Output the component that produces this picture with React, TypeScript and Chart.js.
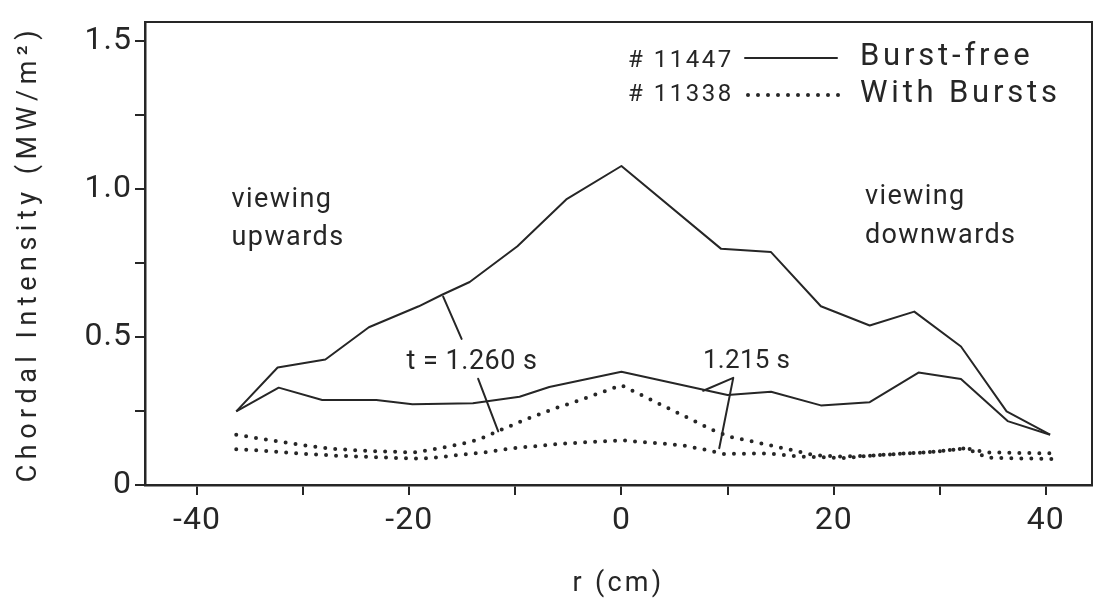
import React, { useEffect, useRef } from 'react';
import { Chart, registerables } from 'chart.js';

Chart.register(...registerables);

// ---- axis ticks ----
const xTickValues = [-40, -30, -20, -10, 0, 10, 20, 30, 40];
const xTickLabels = ['-40', '', '-20', '', '0', '', '20', '', '40'];
const yTickValues = [0, 0.25, 0.5, 0.75, 1.0, 1.25, 1.5];
const yTickLabels = ['0', '', '0.5', '', '1.0', '', '1.5'];

// ---- shot #11447, burst-free (solid) ----
const rFree1260 = [-36.3, -32.4, -27.9, -23.8, -19.1, -16.9, -14.3, -9.8, -5.2, 0, 9.4, 14.1, 18.8, 23.4, 27.6, 32.0, 36.3, 40.4];
const vFree1260 = [0.249, 0.397, 0.424, 0.533, 0.604, 0.643, 0.686, 0.807, 0.965, 1.078, 0.798, 0.787, 0.604, 0.539, 0.586, 0.468, 0.249, 0.170];

const rFree1215 = [-36.3, -32.3, -28.2, -23.1, -19.7, -14.0, -9.6, -6.8, 0, 10.0, 14.1, 18.8, 23.4, 28.0, 32.0, 36.4, 40.4];
const vFree1215 = [0.249, 0.329, 0.287, 0.287, 0.273, 0.276, 0.298, 0.331, 0.383, 0.304, 0.315, 0.269, 0.280, 0.380, 0.358, 0.216, 0.170];

// ---- shot #11338, with bursts (dotted) ----
const rBurst1260 = [-36.3, -33.4, -29.4, -26.8, -23.0, -19.5, -17.2, -15.3, -13.4, -11.7, -9.0, -6.2, -4.3, 0, 8.6, 10.3, 12.1, 14.0, 15.8, 18.0, 20.3, 23.0, 26.0, 29.4, 32.5, 34.5, 40.6];
const vBurst1260 = [0.170, 0.153, 0.131, 0.121, 0.114, 0.110, 0.124, 0.137, 0.154, 0.181, 0.222, 0.260, 0.282, 0.337, 0.186, 0.162, 0.149, 0.134, 0.120, 0.102, 0.096, 0.098, 0.105, 0.112, 0.124, 0.110, 0.107];

const rBurst1215 = [-36.3, -33.4, -29.4, -26.8, -23.0, -19.5, -18.1, -14.3, -12.5, -10.3, -5.5, 0, 5.8, 7.8, 9.6, 13.7, 16.8, 21.2, 23.0, 26.0, 29.4, 32.5, 34.5, 40.6];
const vBurst1215 = [0.121, 0.115, 0.104, 0.099, 0.094, 0.089, 0.091, 0.105, 0.112, 0.124, 0.140, 0.151, 0.134, 0.120, 0.105, 0.107, 0.096, 0.091, 0.098, 0.105, 0.112, 0.124, 0.092, 0.088];

// ---- texts ----
const legendShots = ['# 11447', '# 11338'];
const legendNames = ['Burst-free', 'With Bursts'];
const xTitle = 'r (cm)';
const yTitle = 'Chordal Intensity (MW/m\u00B2)';
const noteLeft = ['viewing', 'upwards'];
const noteRight = ['viewing', 'downwards'];
const timeLabels = ['t = 1.260 s', '1.215 s'];

const INK = '#262626';
const FONT = 'Roboto';
const X_MIN = -44.9;
const X_MAX = 44.35;
const Y_MAX = 1.564;

const toXY = (rs: number[], vs: number[]) => rs.map((r, i) => ({ x: r, y: vs[i] }));

function findLabel(values: number[], labels: string[], v: number) {
  const i = values.findIndex((t) => Math.abs(t - v) < 1e-9);
  return i >= 0 ? labels[i] : '';
}

function drawText(ctx: any, text: string, x: number, y: number, size: number, ls: number, align = 'left') {
  ctx.save();
  ctx.font = `${size}px ${FONT}`;
  ctx.letterSpacing = `${ls}px`;
  ctx.fillStyle = INK;
  ctx.textAlign = align;
  ctx.textBaseline = 'alphabetic';
  ctx.fillText(text, x, y);
  ctx.restore();
}

function patchTitle(scale: any, ls: number) {
  if (!scale || scale.__lsPatched) return;
  const orig = scale.drawTitle;
  scale.drawTitle = function (...args: any[]) {
    const c = this.ctx;
    const prev = c.letterSpacing;
    c.letterSpacing = `${ls}px`;
    orig.apply(this, args);
    c.letterSpacing = prev;
  };
  scale.__lsPatched = true;
}

const decorPlugin = {
  id: 'decor',
  beforeDraw(chart: any) {
    patchTitle(chart.scales.x, 3.3);
    patchTitle(chart.scales.y, 5.5);
    chart.ctx.letterSpacing = '1px';
  },
  afterDraw(chart: any) {
    const { ctx, scales } = chart;
    const px = (r: number) => scales.x.getPixelForValue(r);
    const py = (v: number) => scales.y.getPixelForValue(v);

    // region notes
    drawText(ctx, noteLeft[0], px(-36.74), py(0.938), 27, 1.4);
    drawText(ctx, noteLeft[1], px(-36.74), py(0.812), 27, 1.4);
    drawText(ctx, noteRight[0], px(22.95), py(0.949), 27, 1.4);
    drawText(ctx, noteRight[1], px(22.95), py(0.818), 27, 1.4);

    // time labels
    drawText(ctx, timeLabels[0], px(-20.25), py(0.392), 27, 0.5);
    drawText(ctx, timeLabels[1], px(7.68), py(0.395), 26, 0.3);

    // leader lines
    ctx.save();
    ctx.strokeStyle = INK;
    ctx.lineWidth = 2;
    ctx.lineCap = 'round';
    ctx.lineJoin = 'round';
    const seg = (r1: number, v1: number, r2: number, v2: number) => {
      ctx.beginPath();
      ctx.moveTo(px(r1), py(v1));
      ctx.lineTo(px(r2), py(v2));
      ctx.stroke();
    };
    seg(-16.8, 0.6365, -15.06, 0.4939);
    seg(-13.5, 0.3589, -11.61, 0.1811);
    ctx.beginPath();
    ctx.moveTo(px(7.71), py(0.3184));
    ctx.lineTo(px(10.54), py(0.3622));
    ctx.lineTo(px(9.22), py(0.1241));
    ctx.stroke();

    // legend samples
    ctx.beginPath();
    ctx.moveTo(745, 58);
    ctx.lineTo(837, 58);
    ctx.stroke();
    ctx.fillStyle = INK;
    for (let xx = 748; xx <= 838; xx += 10) {
      ctx.beginPath();
      ctx.arc(xx, 95, 2, 0, Math.PI * 2);
      ctx.fill();
    }
    ctx.restore();

    drawText(ctx, legendShots[0], 628, 67, 24, 2.5);
    drawText(ctx, legendShots[1], 628, 101, 24, 2.5);
    drawText(ctx, legendNames[0], 860, 65, 31, 3.8);
    drawText(ctx, legendNames[1], 860, 102, 31, 3.8);
  },
};

export default function App() {
  const ref = useRef<HTMLCanvasElement | null>(null);

  useEffect(() => {
    if (!ref.current) return;
    const solid = { borderColor: INK, borderWidth: 2, pointRadius: 0, tension: 0, fill: false, borderJoinStyle: 'round' };
    const dotted = { borderColor: INK, borderWidth: 4, borderDash: [0, 10], borderCapStyle: 'round', pointRadius: 0, tension: 0, fill: false };
    const chart = new Chart(ref.current, {
      type: 'line',
      data: {
        datasets: [
          { label: '# 11447 Burst-free, t = 1.260 s', data: toXY(rFree1260, vFree1260), ...solid },
          { label: '# 11447 Burst-free, t = 1.215 s', data: toXY(rFree1215, vFree1215), ...solid },
          { label: '# 11338 With Bursts, t = 1.260 s', data: toXY(rBurst1260, vBurst1260), ...dotted },
          { label: '# 11338 With Bursts, t = 1.215 s', data: toXY(rBurst1215, vBurst1215), ...dotted },
        ] as any,
      },
      options: {
        animation: false,
        responsive: false,
        devicePixelRatio: 1,
        layout: { padding: { top: 10, right: 3, left: 0, bottom: 0 } },
        plugins: { legend: { display: false }, tooltip: { enabled: false } },
        scales: {
          x: {
            type: 'linear',
            position: 'bottom',
            min: X_MIN,
            max: X_MAX,
            afterBuildTicks: (s: any) => { s.ticks = xTickValues.map((v) => ({ value: v })); },
            afterFit: (s: any) => { s.height = 120; },
            ticks: {
              autoSkip: false,
              maxRotation: 0,
              padding: 7,
              color: INK,
              font: { family: FONT, size: 32 },
              callback: (v: any) => findLabel(xTickValues, xTickLabels, Number(v)),
            },
            grid: { display: true, drawOnChartArea: false, drawTicks: true, tickLength: 10, tickWidth: 2, tickColor: INK, color: INK, lineWidth: 2 },
            border: { display: true, color: INK, width: 2.5 },
            title: { display: true, text: xTitle, color: INK, font: { family: FONT, size: 27 }, padding: { top: 0, bottom: 5 } },
          },
          y: {
            type: 'linear',
            position: 'left',
            min: 0,
            max: Y_MAX,
            afterBuildTicks: (s: any) => { s.ticks = yTickValues.map((v) => ({ value: v })); },
            afterFit: (s: any) => { s.width = 145; },
            ticks: {
              autoSkip: false,
              padding: 3,
              color: INK,
              font: { family: FONT, size: 32 },
              callback: (v: any) => findLabel(yTickValues, yTickLabels, Number(v)),
            },
            grid: { display: true, drawOnChartArea: false, drawTicks: true, tickLength: 10, tickWidth: 2, tickColor: INK, color: INK, lineWidth: 2 },
            border: { display: true, color: INK, width: 2.5 },
            title: { display: true, text: yTitle, color: INK, font: { family: FONT, size: 27 }, padding: { top: 12.6, bottom: 0 } },
          },
          xTop: {
            type: 'linear',
            axis: 'x',
            position: 'top',
            min: X_MIN,
            max: X_MAX,
            afterFit: (s: any) => { s.height = 0; },
            ticks: { display: false },
            grid: { display: false, drawTicks: false },
            border: { display: true, color: INK, width: 2 },
          },
          yRight: {
            type: 'linear',
            axis: 'y',
            position: 'right',
            min: 0,
            max: Y_MAX,
            afterFit: (s: any) => { s.width = 0; },
            ticks: { display: false },
            grid: { display: false, drawTicks: false },
            border: { display: true, color: INK, width: 2 },
          },
        },
      } as any,
      plugins: [decorPlugin as any],
    });
    return () => chart.destroy();
  }, []);

  return (
    <div style={{ position: 'fixed', left: 0, top: 0, width: 1095, height: 605, background: '#ffffff' }}>
      <canvas ref={ref} width={1095} height={605} style={{ display: 'block' }} />
    </div>
  );
}
